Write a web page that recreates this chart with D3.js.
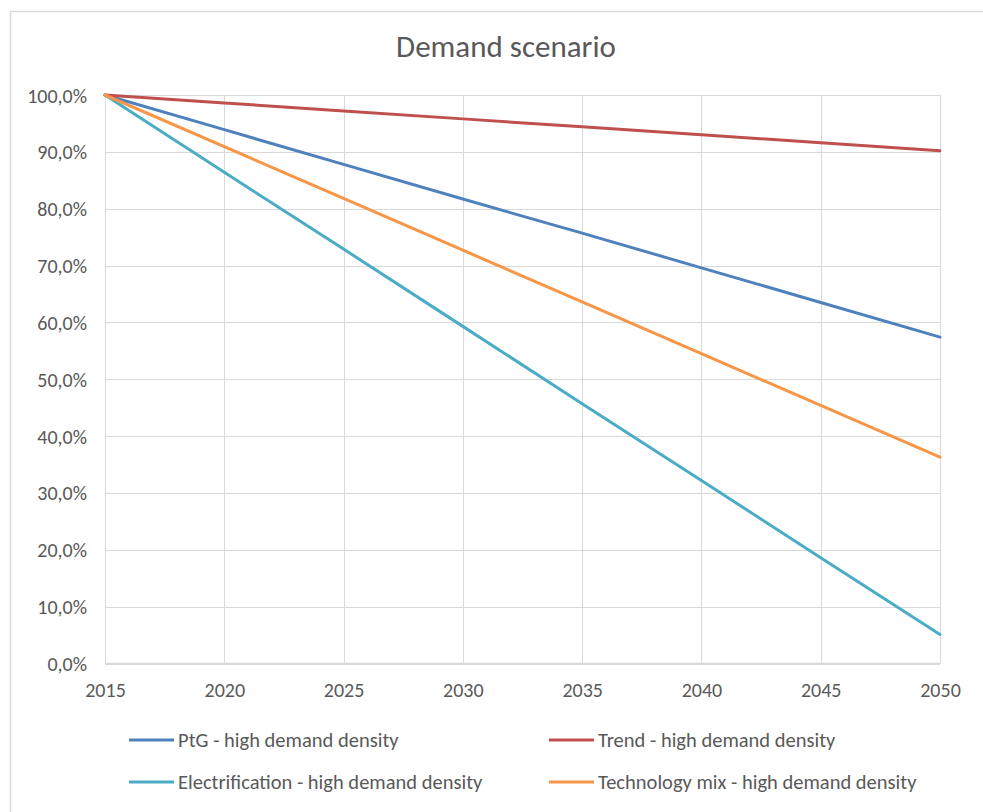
<!DOCTYPE html>
<html><head><meta charset="utf-8">
<script src="https://cdn.jsdelivr.net/npm/d3@7"></script>
<style>body{margin:0;background:#fff;}svg{display:block;font-family:Carlito,Lato,"Open Sans","Liberation Sans",sans-serif;}</style>
</head><body>
<svg id="c" width="983" height="812"></svg>
<script>
const years = [2015, 2020, 2025, 2030, 2035, 2040, 2045, 2050];
const ptg = [100, 93.9, 87.8, 81.7, 75.7, 69.6, 63.5, 57.4];
const trend = [100, 98.6, 97.2, 95.8, 94.4, 93.0, 91.6, 90.2];
const electrification = [100, 86.4, 72.9, 59.3, 45.7, 32.2, 18.6, 5.1];
const techMix = [100, 90.9, 81.8, 72.7, 63.6, 54.5, 45.4, 36.3];
const yTicks = [0, 10, 20, 30, 40, 50, 60, 70, 80, 90, 100];
const seriesNames = ["PtG - high demand density", "Trend - high demand density", "Electrification - high demand density", "Technology mix - high demand density"];
const seriesColors = ["#4f81bd", "#c0504d", "#4bacc6", "#f79646"];
const title = "Demand scenario";

const FONT = "Carlito,Lato,'Open Sans','Liberation Sans',sans-serif";
const series = [ptg, trend, electrification, techMix].map((v, i) => ({name: seriesNames[i], color: seriesColors[i], values: v}));
const svg = d3.select("#c");
svg.append("rect").attr("x", 10.5).attr("y", 11.5).attr("width", 990).attr("height", 820)
  .attr("fill", "#fff").attr("stroke", "#d9d9d9").attr("stroke-width", 1.5);

const x = d3.scaleLinear().domain([2015, 2050]).range([105, 940]);
const y = d3.scaleLinear().domain([0, 100]).range([663.5, 95]);

svg.append("text").attr("x", 506).attr("y", 57).attr("text-anchor", "middle")
  .attr("font-size", 31).attr("fill", "#595959").text(title);

const g = svg.append("g");
g.selectAll(".hg").data(yTicks).join("line")
  .attr("x1", 105).attr("x2", 940).attr("y1", d => Math.round(y(d)) + 0.5).attr("y2", d => Math.round(y(d)) + 0.5)
  .attr("stroke", "#d9d9d9").attr("stroke-width", 1);
g.selectAll(".vg").data(years).join("line")
  .attr("y1", 95).attr("y2", 663.5).attr("x1", d => Math.round(x(d)) + 0.5).attr("x2", d => Math.round(x(d)) + 0.5)
  .attr("stroke", "#d9d9d9").attr("stroke-width", 1);
g.append("line").attr("x1", 105).attr("x2", 940).attr("y1", 663.5).attr("y2", 663.5).attr("stroke", "#d9d9d9").attr("stroke-width", 1.5);

const fmt = d => d3.format(".1f")(d).replace(".", ",") + "%";
const yAxis = d3.axisLeft(y).tickValues(yTicks).tickFormat(fmt).tickSize(0).tickPadding(0);
const ya = svg.append("g").attr("transform", "translate(87,0)").call(yAxis);
ya.select(".domain").remove();
ya.selectAll("text").attr("font-size", 20).attr("fill", "#595959").attr("font-family", FONT).attr("dy", "0.35em").attr("x", 0);

const xAxis = d3.axisBottom(x).tickValues(years).tickFormat(d3.format("d")).tickSize(0).tickPadding(0);
const xa = svg.append("g").attr("transform", "translate(0,690)").call(xAxis);
xa.select(".domain").remove();
xa.selectAll("text").attr("font-size", 20).attr("fill", "#595959").attr("font-family", FONT).attr("dy", "0.35em").attr("y", 0);

const line = d3.line().x((d, i) => x(years[i])).y(d => y(d));
svg.selectAll(".s").data(series).join("path")
  .attr("d", d => line(d.values)).attr("fill", "none").attr("stroke", d => d.color)
  .attr("stroke-width", 3).attr("stroke-linecap", "round");

const legPos = [[129, 740], [549, 740], [129, 782], [549, 782]];
const lg = svg.selectAll(".lg").data(series).join("g").attr("transform", (d, i) => `translate(${legPos[i][0]},${legPos[i][1]})`);
lg.append("line").attr("x1", 0).attr("x2", 45).attr("y1", 0).attr("y2", 0).attr("stroke", d => d.color).attr("stroke-width", 3);
lg.append("text").attr("x", 49).attr("y", 0).attr("dy", "0.35em").attr("font-size", 20.5).attr("fill", "#595959").text(d => d.name);
</script>
</body></html>
